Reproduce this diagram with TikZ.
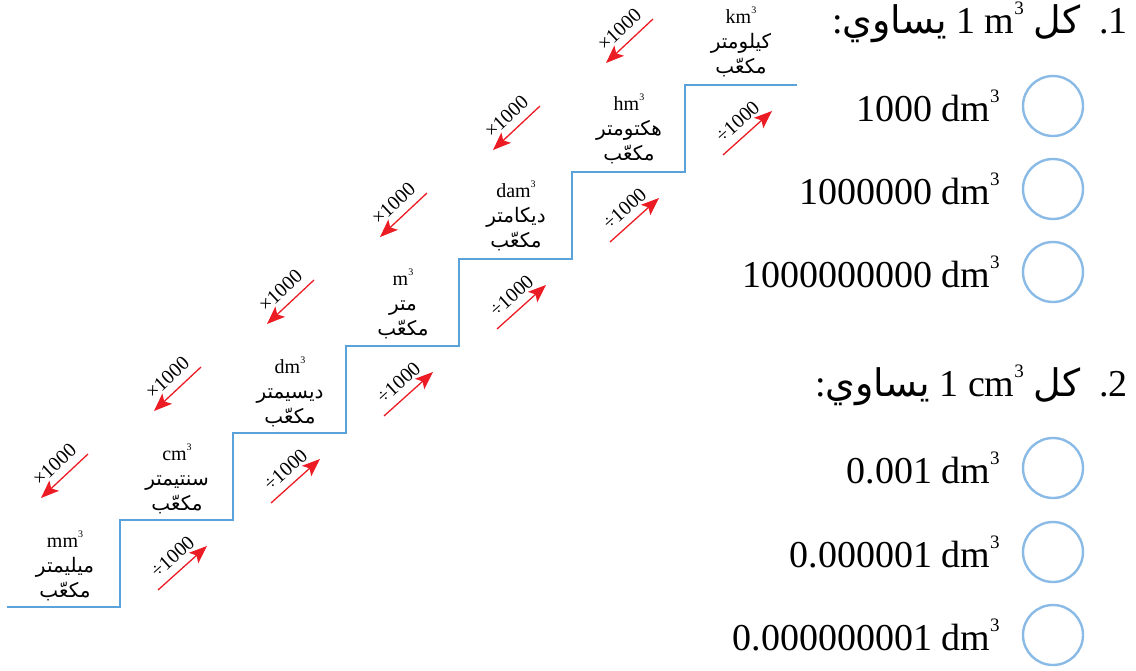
\documentclass[tikz,border=0pt]{standalone}
\usepackage{fontspec}
\setmainfont{Liberation Serif}
\newfontfamily\arabicfont[Script=Arabic]{DejaVu Sans}
\TeXXeTstate=1
\usetikzlibrary{arrows.meta}
\definecolor{stairblue}{RGB}{90,162,218}
\definecolor{circblue}{RGB}{138,186,230}
\definecolor{arrred}{RGB}{236,28,36}
\tikzset{
  stair/.style={draw=stairblue, line width=1.8pt},
  mularrow/.style={draw=arrred, line width=1.3pt, -{Stealth[length=18pt,width=14pt,inset=4pt]}},
  arrlabel/.style={font=\fontsize{20}{20}\selectfont, inner sep=0pt, anchor=south, xshift=-5pt, yshift=6pt},
  unitlabel/.style={align=center, font=\fontsize{20}{25}\selectfont, inner sep=0pt},
  choice/.style={circle, draw=circblue, line width=2.4pt, minimum size=60pt, inner sep=0pt},
  choicetext/.style={anchor=east, font=\fontsize{38}{40}\selectfont, inner sep=0pt},
  qtitle/.style={anchor=east, font=\fontsize{38}{40}\selectfont, inner sep=0pt},
}
\newcommand{\ar}[1]{{\arabicfont\beginR #1\endR}}
\newcommand{\cu}{\raisebox{0.5em}{\scalebox{0.5}{3}}}
\begin{document}
\begin{tikzpicture}[x=1pt,y=-1pt]
\useasboundingbox (0,0) rectangle (1136,670);
% staircase
\draw[stair] (7,607) -- (120,607) -- (120,520) -- (233,520) -- (233,433) -- (346,433)
  -- (346,346) -- (459,346) -- (459,259) -- (572,259) -- (572,172) -- (685,172)
  -- (685,85) -- (797,85);
% unit labels
\node[unitlabel] (mm) at (65,566) {mm\cu\\\ar{ميليمتر}\\\ar{مكعّب}};
\node[unitlabel] (cm) at (177,479) {cm\cu\\\ar{سنتيمتر}\\\ar{مكعّب}};
\node[unitlabel] (dm) at (290,392) {dm\cu\\\ar{ديسيمتر}\\\ar{مكعّب}};
\node[unitlabel] (m) at (403,304) {m\cu\\\ar{متر}\\\ar{مكعّب}};
\node[unitlabel] (dam) at (516,216) {dam\cu\\\ar{ديكامتر}\\\ar{مكعّب}};
\node[unitlabel] (hm) at (629,129) {hm\cu\\\ar{هكتومتر}\\\ar{مكعّب}};
\node[unitlabel] (km) at (741,42) {km\cu\\\ar{كيلومتر}\\\ar{مكعّب}};
% arrows
\foreach \i in {0,...,5} {
  \coordinate (xs\i) at (88+113*\i, 454-87*\i);
  \coordinate (xe\i) at (41+113*\i, 498-87*\i);
  \draw[mularrow] (xs\i) -- node[arrlabel, rotate=43] {×1000} (xe\i);
  \coordinate (ds\i) at (158+113*\i, 590-87*\i);
  \coordinate (de\i) at (207+113*\i, 546-87*\i);
  \draw[mularrow] (ds\i) -- node[arrlabel, rotate=42] {÷1000} (de\i);
}
% question 1
\node[qtitle] (q1) at (1128,22) {:\ar{يساوي} 1 m\cu\ \ar{كل}\ \ .1};
\node[choice] (c1a) at (1053,106) {};
\node[choice] (c1b) at (1053,189) {};
\node[choice] (c1c) at (1053,272) {};
\node[choicetext] (t1a) at ([xshift=-22pt]c1a.west) {1000 dm\cu};
\node[choicetext] (t1b) at ([xshift=-22pt]c1b.west) {1000000 dm\cu};
\node[choicetext] (t1c) at ([xshift=-22pt]c1c.west) {1000000000 dm\cu};
% question 2
\node[qtitle] (q2) at (1128,385) {:\ar{يساوي} 1 cm\cu\ \ar{كل}\ \ .2};
\node[choice] (c2a) at (1053,468) {};
\node[choice] (c2b) at (1053,552) {};
\node[choice] (c2c) at (1053,635) {};
\node[choicetext] (t2a) at ([xshift=-22pt]c2a.west) {0.001 dm\cu};
\node[choicetext] (t2b) at ([xshift=-22pt]c2b.west) {0.000001 dm\cu};
\node[choicetext] (t2c) at ([xshift=-22pt]c2c.west) {0.000000001 dm\cu};
\end{tikzpicture}
\end{document}
